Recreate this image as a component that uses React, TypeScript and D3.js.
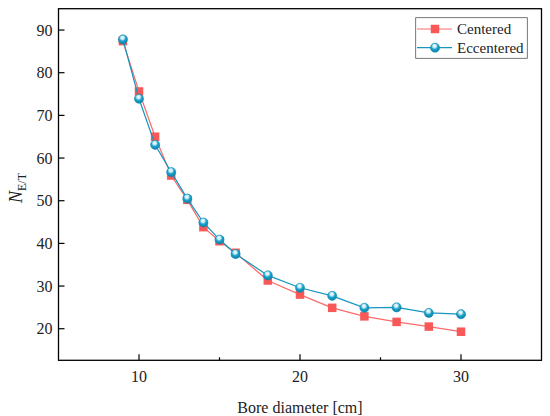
import React from "react";
import * as d3 from "d3";

const boreDiameter = [9, 10, 11, 12, 13, 14, 15, 16, 18, 20, 22, 24, 26, 28, 30];
const centered = [87.4, 75.6, 65.0, 55.9, 50.2, 43.8, 40.5, 37.8, 31.3, 28.0, 24.9, 22.9, 21.6, 20.5, 19.3];
const eccentered = [87.8, 73.9, 63.1, 56.7, 50.5, 44.9, 40.9, 37.5, 32.5, 29.6, 27.7, 24.9, 25.0, 23.7, 23.4];
const xTicks = [10, 20, 30];
const xMinorTicks = [15, 25];
const yTicks = [20, 30, 40, 50, 60, 70, 80, 90];

const W = 550;
const H = 416;
const L = 58.5, R = 541.5, T = 8.7, B = 360.3;
const red = "#F85858";
const redLine = "#FA6B6B";
const blue = "#1696BE";
const font = "'Liberation Serif', 'Times New Roman', serif";

export default function App() {
  const x = d3.scaleLinear().domain([5, 35]).range([L, R]);
  const y = d3.scaleLinear().domain([12.6, 95]).range([B, T]);
  const line = d3
    .line<[number, number]>()
    .x((d) => x(d[0]))
    .y((d) => y(d[1]));
  const cPts: [number, number][] = boreDiameter.map((d, i) => [d, centered[i]]);
  const ePts: [number, number][] = boreDiameter.map((d, i) => [d, eccentered[i]]);
  const sq = 8.5;
  const cr = 4.6;

  return (
    <svg
      width={W}
      height={H}
      style={{ position: "absolute", left: 0, top: 0, background: "#fff" }}
      fontFamily={font}
    >
      <defs>
        <radialGradient id="ball" cx="0.45" cy="0.35" r="0.65" fx="0.45" fy="0.3">
          <stop offset="0" stopColor="#ffffff" />
          <stop offset="0.3" stopColor="#bfe7f3" />
          <stop offset="0.55" stopColor="#1aa3cc" />
          <stop offset="1" stopColor="#0d7fa5" />
        </radialGradient>
      </defs>
      <rect x={0} y={0} width={W} height={H} fill="#fff" />

      {/* series */}
      <path d={line(cPts) || ""} fill="none" stroke={redLine} strokeWidth={1.2} />
      {cPts.map((p, i) => (
        <rect
          key={"c" + i}
          x={x(p[0]) - sq / 2}
          y={y(p[1]) - sq / 2}
          width={sq}
          height={sq}
          fill={red}
        />
      ))}
      <path d={line(ePts) || ""} fill="none" stroke={blue} strokeWidth={1.2} />
      {ePts.map((p, i) => (
        <circle key={"e" + i} cx={x(p[0])} cy={y(p[1])} r={cr} fill="url(#ball)" stroke="#0f86ad" strokeWidth={0.5} />
      ))}

      {/* frame */}
      <rect x={L} y={T} width={R - L} height={B - T} fill="none" stroke="#000" strokeWidth={1.3} />

      {/* x ticks */}
      {xTicks.map((t) => (
        <g key={"xt" + t}>
          <line x1={x(t)} x2={x(t)} y1={B} y2={B - 6} stroke="#000" strokeWidth={1.2} />
          <text x={x(t)} y={382} textAnchor="middle" fontSize={16} fill="#222">
            {t}
          </text>
        </g>
      ))}
      {xMinorTicks.map((t) => (
        <line key={"xm" + t} x1={x(t)} x2={x(t)} y1={B} y2={B - 3} stroke="#000" strokeWidth={1.2} />
      ))}

      {/* y ticks */}
      {yTicks.map((t) => (
        <g key={"yt" + t}>
          <line x1={L} x2={L + 6} y1={y(t)} y2={y(t)} stroke="#000" strokeWidth={1.2} />
          <text x={L - 6} y={y(t) + 5.5} textAnchor="end" fontSize={16} fill="#222">
            {t}
          </text>
        </g>
      ))}

      {/* axis titles */}
      <text x={(L + R) / 2} y={413} textAnchor="middle" fontSize={16} fill="#222">
        Bore diameter [cm]
      </text>
      <text transform={`translate(22, 188) rotate(-90)`} textAnchor="middle" fill="#222">
        <tspan fontStyle="italic" fontSize={18}>N</tspan>
        <tspan fontSize={12} dy={4}>E/T</tspan>
      </text>

      {/* legend */}
      <rect x={415.7} y={17.7} width={111.6} height={40.6} fill="#fff" stroke="#555" strokeWidth={0.8} />
      <line x1={417} x2={452} y1={29} y2={29} stroke={redLine} strokeWidth={1.2} />
      <rect x={435 - sq / 2} y={29 - sq / 2} width={sq} height={sq} fill={red} />
      <text x={457} y={34.3} fontSize={15} fill="#222">
        Centered
      </text>
      <line x1={417} x2={452} y1={47.7} y2={47.7} stroke={blue} strokeWidth={1.2} />
      <circle cx={435} cy={47.7} r={cr} fill="url(#ball)" stroke="#0f86ad" strokeWidth={0.5} />
      <text x={457} y={53} fontSize={15} fill="#222">
        Eccentered
      </text>
    </svg>
  );
}
